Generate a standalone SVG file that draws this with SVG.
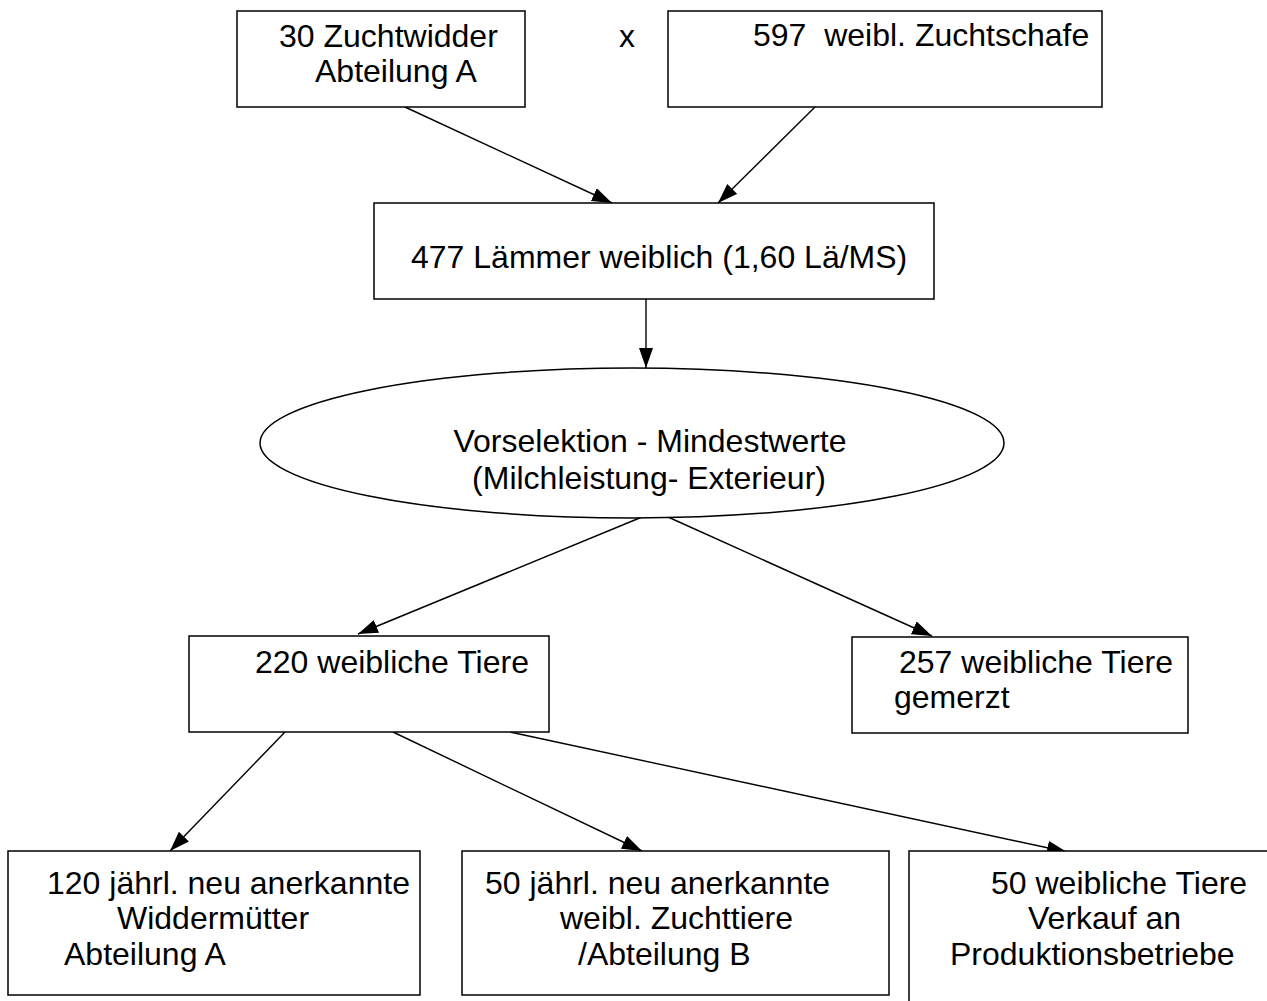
<svg xmlns="http://www.w3.org/2000/svg" width="1267" height="1001" viewBox="0 0 1267 1001">
<style>
.box{fill:#fff;stroke:#000;stroke-width:1.5}
.t{font-family:"Liberation Sans",Arial,sans-serif;font-size:32px;fill:#000;white-space:pre}
.c{stroke:#000;stroke-width:1.4;fill:none;marker-end:url(#ah)}
</style>
<defs>
<marker id="ah" markerUnits="userSpaceOnUse" markerWidth="22" markerHeight="16" refX="20" refY="7" orient="auto">
<path d="M0,0 L20,7 L0,14 z" fill="#000"/>
</marker>
</defs>
<rect width="1267" height="1001" fill="#fff"/>
<g id="connectors">
<line class="c" x1="405" y1="107" x2="612" y2="203"/>
<line class="c" x1="815" y1="107" x2="718" y2="203"/>
<line class="c" x1="646" y1="299" x2="646" y2="368"/>
<line class="c" x1="642" y1="517" x2="358" y2="634"/>
<line class="c" x1="668" y1="517" x2="932" y2="636"/>
<line class="c" x1="285" y1="732" x2="170" y2="851"/>
<line class="c" x1="393" y1="732" x2="642" y2="851"/>
<line class="c" x1="510" y1="732" x2="1067" y2="852"/>
</g>
<g id="n1">
<rect class="box" x="237" y="11" width="288" height="96"/>
<text class="t" x="279" y="47">30 Zuchtwidder</text>
<text class="t" x="315" y="82">Abteilung A</text>
</g>
<g id="x-label"><text class="t" x="619" y="47">x</text></g>
<g id="n2">
<rect class="box" x="668" y="11" width="434" height="96"/>
<text class="t" x="753" y="46" xml:space="preserve">597  weibl. Zuchtschafe</text>
</g>
<g id="n3">
<rect class="box" x="374" y="203" width="560" height="96"/>
<text class="t" x="411" y="268">477 Lämmer weiblich (1,60 Lä/MS)</text>
</g>
<g id="n4">
<ellipse class="box" cx="632" cy="443" rx="372" ry="75"/>
<text class="t" x="650" y="452" text-anchor="middle">Vorselektion - Mindestwerte</text>
<text class="t" x="649" y="489" text-anchor="middle">(Milchleistung- Exterieur)</text>
</g>
<g id="n5">
<rect class="box" x="189" y="636" width="360" height="96"/>
<text class="t" x="255" y="673">220 weibliche Tiere</text>
</g>
<g id="n6">
<rect class="box" x="852" y="637" width="336" height="96"/>
<text class="t" x="899" y="673">257 weibliche Tiere</text>
<text class="t" x="894" y="708">gemerzt</text>
</g>
<g id="n7">
<rect class="box" x="8" y="851" width="412" height="144"/>
<text class="t" x="47" y="894">120 jährl. neu anerkannte</text>
<text class="t" x="117" y="929">Widdermütter</text>
<text class="t" x="64" y="965">Abteilung A</text>
</g>
<g id="n8">
<rect class="box" x="462" y="851" width="427" height="144"/>
<text class="t" x="485" y="894">50 jährl. neu anerkannte</text>
<text class="t" x="560" y="929">weibl. Zuchttiere</text>
<text class="t" x="578" y="965">/Abteilung B</text>
</g>
<g id="n9">
<path class="box" d="M909,1001 V851 H1267" fill="none"/>
<text class="t" x="991" y="894">50 weibliche Tiere</text>
<text class="t" x="1028" y="929">Verkauf an</text>
<text class="t" x="950" y="965">Produktionsbetriebe</text>
</g>
</svg>
